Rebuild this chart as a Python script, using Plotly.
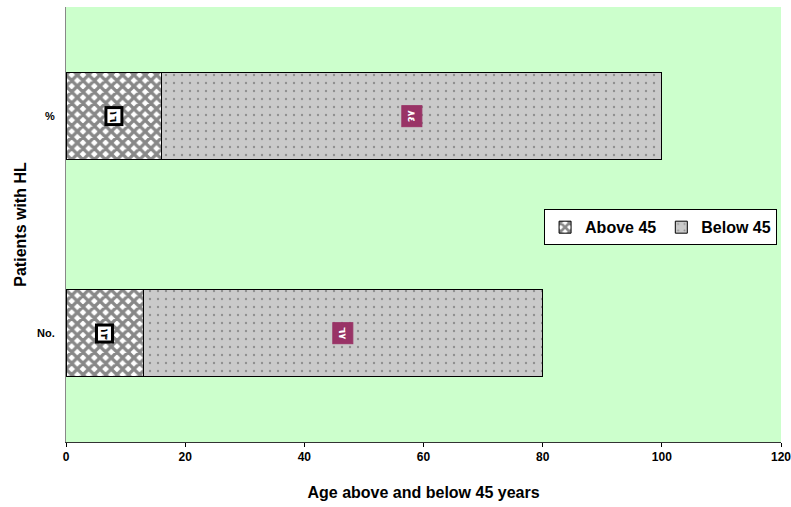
import plotly.graph_objects as go

# Patients with HL, split by age group
categories = ["No.", "%"]
above_45 = [13, 16]
below_45 = [67, 84]
above_labels = ["١٣", "١٦"]
below_labels = ["٦٧", "٨٤"]
x_ticks = [0, 20, 40, 60, 80, 100, 120]

narrow_font = "Liberation Sans Narrow, Arial Narrow, Liberation Sans, sans-serif"
main_font = "Liberation Sans, Arial, sans-serif"

fig = go.Figure()

fig.add_trace(go.Bar(
    name="Above 45",
    y=categories,
    x=above_45,
    orientation="h",
    width=0.4,
    marker=dict(
        color="white",
        line=dict(color="black", width=1),
        pattern=dict(shape="x", fgcolor="#111111", bgcolor="white",
                     size=8, solidity=0.65, fillmode="overlay"),
    ),
))

fig.add_trace(go.Bar(
    name="Below 45",
    y=categories,
    x=below_45,
    orientation="h",
    width=0.4,
    marker=dict(
        color="#C8C8C8",
        line=dict(color="black", width=1),
        pattern=dict(shape=".", fgcolor="#555555", bgcolor="#CACACA",
                     size=8, solidity=0.07, fillmode="overlay"),
    ),
))

# Value labels, centred in each segment
for cat, a, b, la, lb in zip(categories, above_45, below_45, above_labels, below_labels):
    fig.add_annotation(
        x=a / 2, y=cat, text=f"<b>{la}</b>", showarrow=False, textangle=90,
        font=dict(family="DejaVu Sans, sans-serif", size=10, color="black"),
        bgcolor="white", bordercolor="black", borderwidth=3, borderpad=1,
    )
    fig.add_annotation(
        x=a + b / 2, y=cat, text=f"<b>{lb}</b>", showarrow=False, textangle=90,
        font=dict(family="DejaVu Sans, sans-serif", size=10, color="white"),
        bgcolor="#993366", bordercolor="#993366", borderwidth=1, borderpad=4,
    )

fig.update_layout(
    width=791,
    height=507,
    barmode="stack",
    paper_bgcolor="white",
    plot_bgcolor="#CCFFCC",
    margin=dict(l=66, r=10, t=7, b=65, autoexpand=False),
    font=dict(family=main_font, color="black"),
    legend=dict(
        orientation="h",
        x=0.9945, y=0.535, xanchor="right", yanchor="top",
        bgcolor="white", bordercolor="black", borderwidth=1,
        font=dict(size=16, family=main_font, weight="bold"),
        itemwidth=30, traceorder="normal",
    ),
    xaxis=dict(
        range=[0, 120],
        tickvals=x_ticks,
        ticktext=[f"<b>{v}</b>" for v in x_ticks],
        tickfont=dict(family=narrow_font, size=12),
        ticklabeloverflow="allow",
        ticks="outside", ticklen=4, tickcolor="black",
        showline=True, linecolor="#333333", linewidth=1,
        showgrid=False, zeroline=False,
        title=dict(text="<b>Age above and below 45 years</b>",
                   font=dict(size=16, family=main_font),
                   standoff=23),
    ),
    yaxis=dict(
        categoryorder="array",
        categoryarray=categories,
        ticktext=["<b>No.</b>", "<b>%</b>"],
        tickvals=categories,
        tickfont=dict(size=11, family=main_font),
        ticklabelstandoff=8,
        ticks="", showline=True, linecolor="#888888", linewidth=1,
        showgrid=False, zeroline=False,
        title=dict(text="<b>Patients with HL</b>",
                   font=dict(size=16, family=main_font),
                   standoff=6),
    ),
)

fig.write_html("out.html")
